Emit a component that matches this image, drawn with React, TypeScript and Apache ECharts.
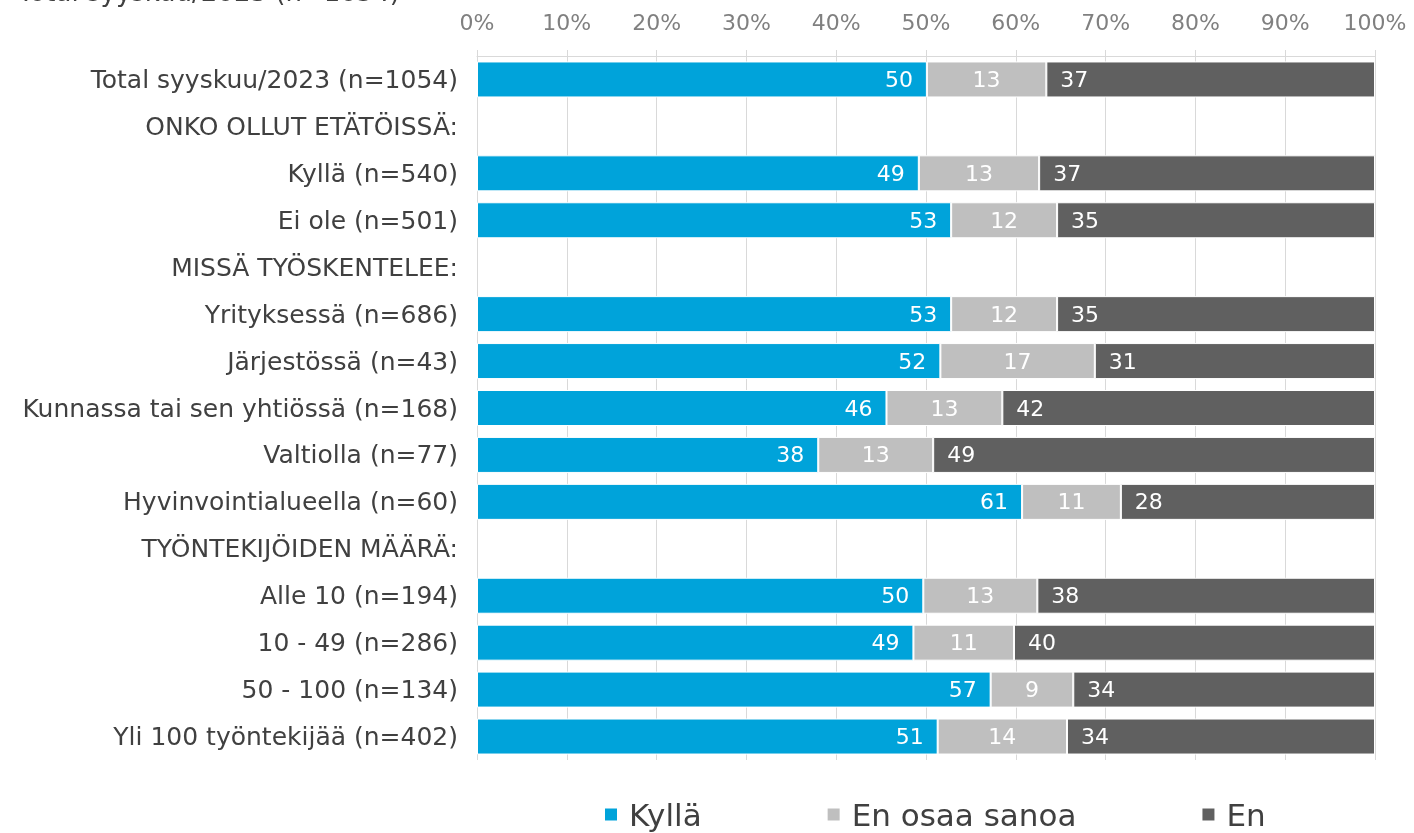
import React, { useEffect, useRef } from "react";
import * as echarts from "echarts";

const categories = [
  "Total syyskuu/2023 (n=1054)",
  "ONKO OLLUT ETÄTÖISSÄ:",
  "Kyllä (n=540)",
  "Ei ole (n=501)",
  "MISSÄ TYÖSKENTELEE:",
  "Yrityksessä (n=686)",
  "Järjestössä (n=43)",
  "Kunnassa tai sen yhtiössä (n=168)",
  "Valtiolla (n=77)",
  "Hyvinvointialueella (n=60)",
  "TYÖNTEKIJÖIDEN MÄÄRÄ:",
  "Alle 10 (n=194)",
  "10 - 49 (n=286)",
  "50 - 100 (n=134)",
  "Yli 100 työntekijää (n=402)",
];

const kylla = [50.1, null, 49.2, 52.8, null, 52.8, 51.6, 45.6, 38.0, 60.7, null, 49.7, 48.6, 57.2, 51.3];
const enOsaa = [13.3, null, 13.4, 11.8, null, 11.8, 17.2, 12.9, 12.8, 11.0, null, 12.7, 11.2, 9.2, 14.4];
const en = [36.6, null, 37.4, 35.4, null, 35.4, 31.2, 41.5, 49.2, 28.3, null, 37.6, 40.2, 33.6, 34.3];

const seriesNames = ["Kyllä", "En osaa sanoa", "En"];
const colors = ["#00A3DA", "#BFBFBF", "#606060"];
const tickLabels = ["0%", "10%", "20%", "30%", "40%", "50%", "60%", "70%", "80%", "90%", "100%"];

const FONT = "'DejaVu Sans', Verdana, sans-serif";

export default function App() {
  const ref = useRef<HTMLDivElement>(null);
  useEffect(() => {
    if (!ref.current) return;
    const chart = echarts.init(ref.current, undefined, { renderer: "svg" });
    const positions = ["insideRight", "inside", "insideLeft"];
    const data = [kylla, enOsaa, en];
    chart.setOption({
      animation: false,
      textStyle: { fontFamily: FONT },
      grid: { left: 477, right: 39, top: 56, bottom: 73, containLabel: false },
      graphic: [
        {
          type: "text",
          left: 18,
          top: -21,
          style: {
            text: "Total syyskuu/2023 (n=1054)",
            fontFamily: FONT,
            fontSize: 26,
            fill: "#404040",
          },
        },
      ],
      legend: {
        bottom: 3,
        left: 603,
        padding: 0,
        itemGap: 124,
        itemWidth: 14,
        itemHeight: 14,
        icon: "rect",
        textStyle: { fontFamily: FONT, fontSize: 31, color: "#404040", padding: [0, 0, 0, 6] },
        data: seriesNames,
      },
      xAxis: {
        type: "value",
        position: "top",
        min: 0,
        max: 100,
        interval: 10,
        axisLine: { show: true, lineStyle: { color: "#D9D9D9", width: 1 } },
        axisTick: { show: true, length: 6, lineStyle: { color: "#D9D9D9" } },
        splitLine: { show: true, lineStyle: { color: "#D9D9D9", width: 1 } },
        axisLabel: {
          margin: 23,
          fontFamily: FONT,
          fontSize: 22,
          color: "#808080",
          formatter: (v: number) => tickLabels[Math.round(v / 10)],
        },
      },
      yAxis: {
        type: "category",
        inverse: true,
        data: categories,
        axisLine: { show: false },
        axisTick: { show: false },
        axisLabel: { margin: 19, fontFamily: FONT, fontSize: 25, color: "#404040" },
      },
      series: seriesNames.map((name, i) => ({
        name,
        type: "bar",
        stack: "total",
        barWidth: 36,
        data: data[i],
        itemStyle: { color: colors[i], borderColor: "#FFFFFF", borderWidth: 1 },
        label: {
          show: true,
          position: positions[i],
          distance: 14,
          color: "#FFFFFF",
          fontFamily: FONT,
          fontSize: 22,
          formatter: (p: any) => (p.value == null ? "" : String(Math.round(p.value))),
        },
      })),
    });
    return () => chart.dispose();
  }, []);
  return (
    <div
      ref={ref}
      style={{ position: "fixed", left: 0, top: 0, width: 1414, height: 833 }}
    />
  );
}
